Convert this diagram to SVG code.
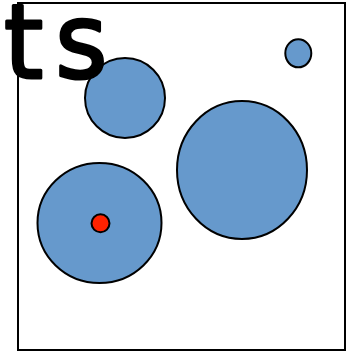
<svg xmlns="http://www.w3.org/2000/svg" width="355" height="352" viewBox="0 0 355 352">
<style>
.b{fill:#6699cc;stroke:#000;stroke-width:2}
.r{fill:#ff2200;stroke:#000;stroke-width:2}
.t{font-family:"DejaVu Sans",sans-serif;font-size:100px;fill:#000;stroke:#000;stroke-width:3;stroke-linejoin:round}
</style>
<rect id="frame" x="18" y="3" width="327" height="347" fill="#fff" stroke="#000" stroke-width="2"/>
<g id="c1"><ellipse class="b" cx="298.3" cy="53.3" rx="13" ry="14"/></g>
<g id="c2"><ellipse class="b" cx="125" cy="98" rx="40" ry="40"/></g>
<g id="c3"><ellipse class="b" cx="242" cy="170" rx="65" ry="69"/></g>
<g id="c4"><ellipse class="b" cx="99.5" cy="223" rx="62" ry="60"/></g>
<g id="dot"><circle class="r" cx="100.5" cy="223.3" r="9"/></g>
<text class="t" x="4" y="78" letter-spacing="12" transform="translate(0,78) scale(1,1.04) translate(0,-78)">ts</text>
</svg>
